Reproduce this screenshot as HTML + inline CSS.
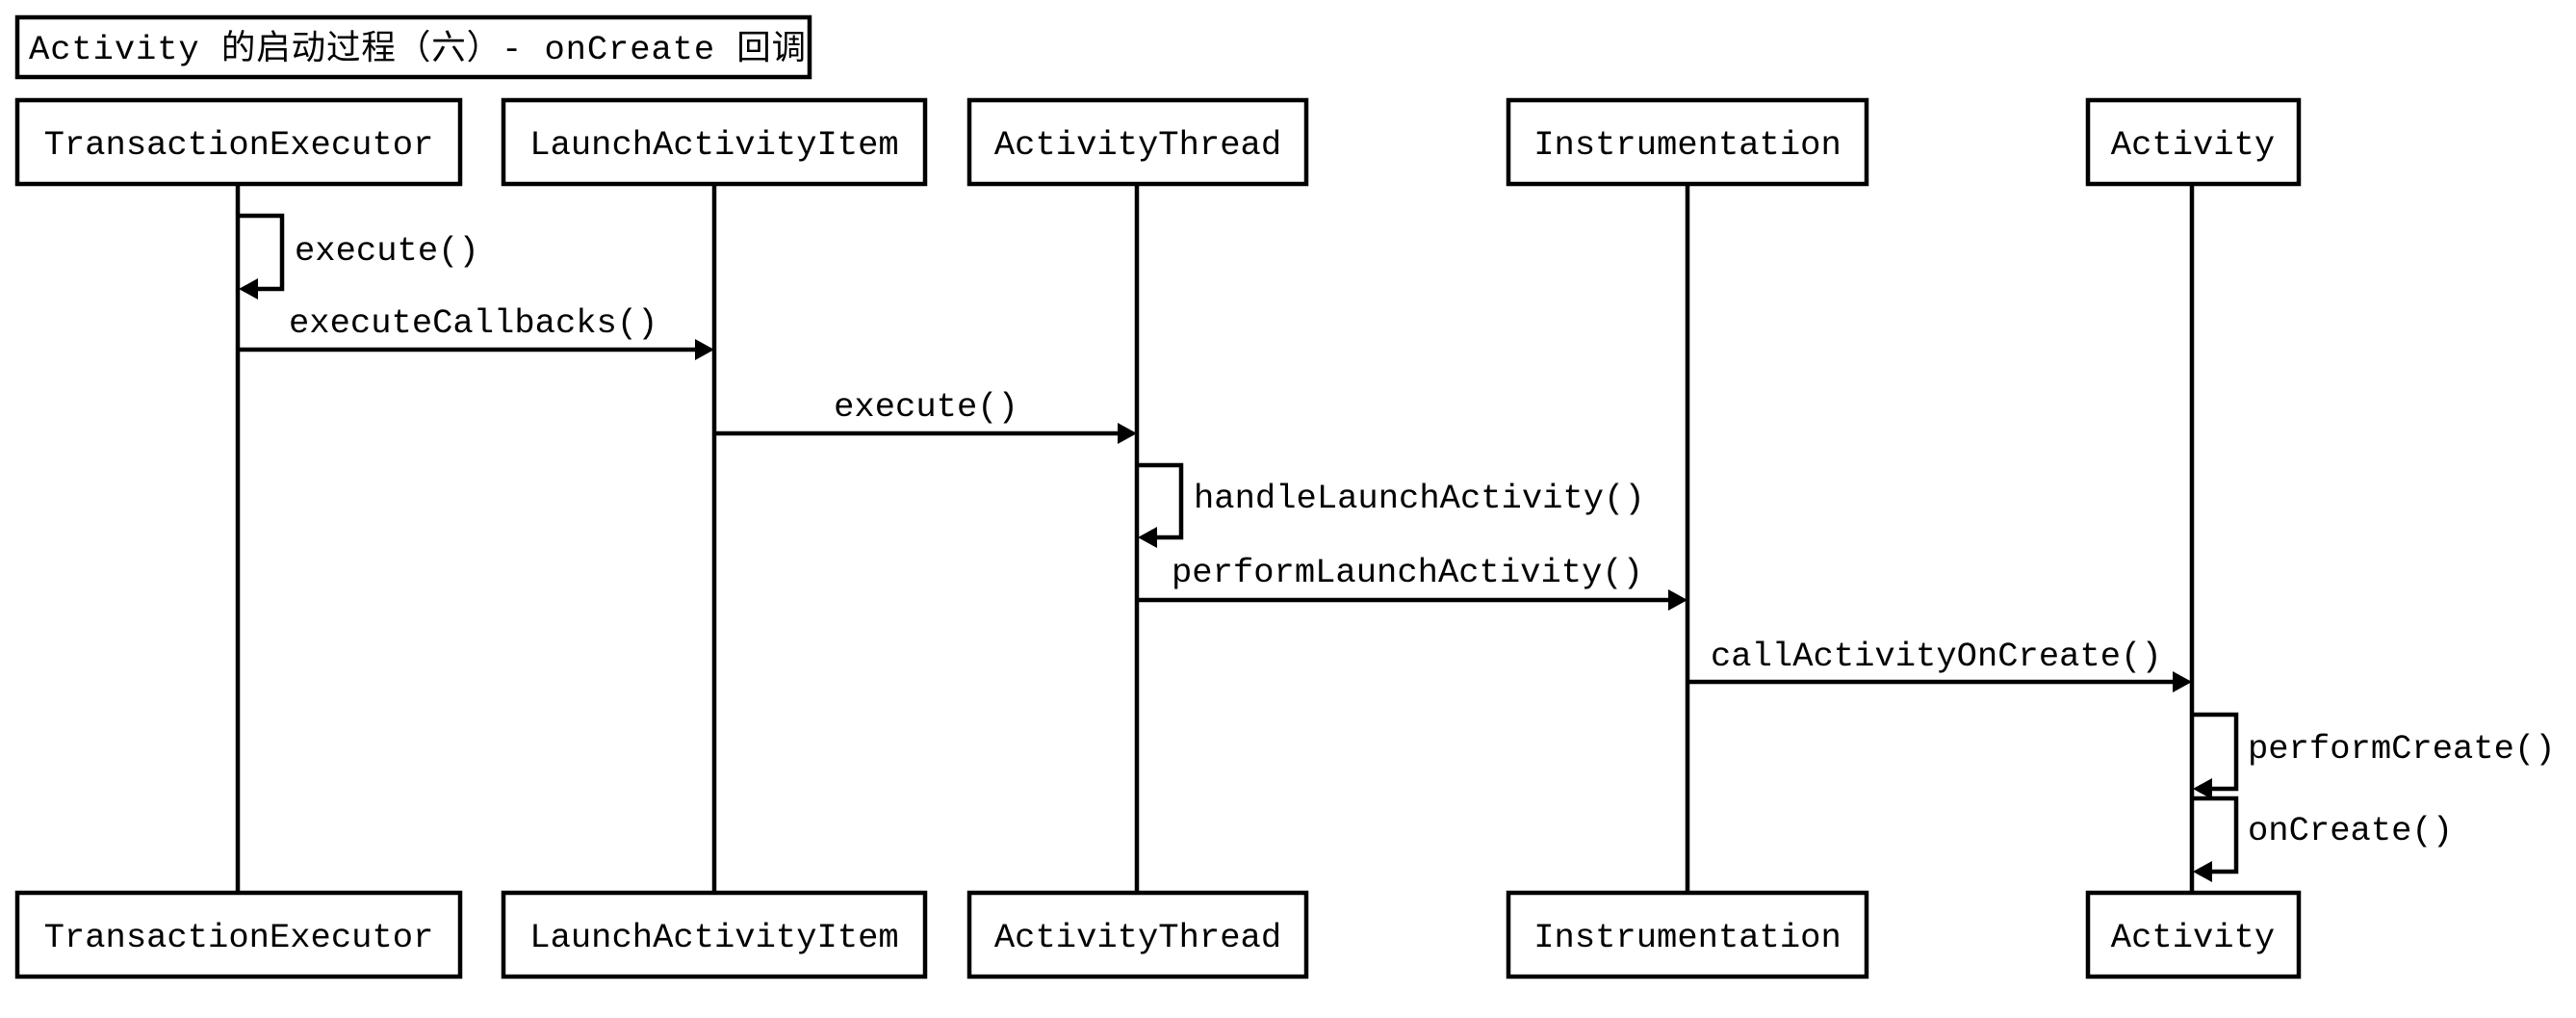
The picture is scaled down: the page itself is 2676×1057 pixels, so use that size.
<!DOCTYPE html>
<html><head><meta charset="utf-8"><style>
html,body{margin:0;padding:0;background:#fff;}
svg text{font-family:"Liberation Mono","Noto Sans CJK SC",monospace;font-size:35.5px;fill:#000;}
</style></head><body>
<svg width="2676" height="1052" viewBox="0 0 2676 1052" xmlns="http://www.w3.org/2000/svg">
<g fill="none" stroke="#000" stroke-width="4.5">
<rect x="18" y="18" width="823" height="62" fill="#fff"/>
<line x1="247" y1="191" x2="247" y2="927"/>
<line x1="742" y1="191" x2="742" y2="927"/>
<line x1="1181" y1="191" x2="1181" y2="927"/>
<line x1="1753" y1="191" x2="1753" y2="927"/>
<line x1="2277" y1="191" x2="2277" y2="927"/>
<rect x="18" y="104" width="460" height="87" fill="#fff"/>
<rect x="523" y="104" width="438" height="87" fill="#fff"/>
<rect x="1007" y="104" width="350" height="87" fill="#fff"/>
<rect x="1567" y="104" width="372" height="87" fill="#fff"/>
<rect x="2169" y="104" width="219" height="87" fill="#fff"/>
<rect x="18" y="927" width="460" height="87" fill="#fff"/>
<rect x="523" y="927" width="438" height="87" fill="#fff"/>
<rect x="1007" y="927" width="350" height="87" fill="#fff"/>
<rect x="1567" y="927" width="372" height="87" fill="#fff"/>
<rect x="2169" y="927" width="219" height="87" fill="#fff"/>
<polyline points="247,224 293,224 293,300 262,300"/>
<line x1="247" y1="363" x2="725" y2="363"/>
<line x1="742" y1="450" x2="1164" y2="450"/>
<polyline points="1181,483 1227,483 1227,558 1196,558"/>
<line x1="1181" y1="623" x2="1736" y2="623"/>
<line x1="1753" y1="708" x2="2260" y2="708"/>
<polyline points="2277,742 2323,742 2323,819 2292,819"/>
<polyline points="2277,829 2323,829 2323,905 2292,905"/>
</g>
<g fill="#000">
<polygon points="248,300 268,289 268,311"/>
<polygon points="742,363 722,352 722,374"/>
<polygon points="1181,450 1161,439 1161,461"/>
<polygon points="1182,558 1202,547 1202,569"/>
<polygon points="1753,623 1733,612 1733,634"/>
<polygon points="2277,708 2257,697 2257,719"/>
<polygon points="2278,819 2298,808 2298,830"/>
<polygon points="2278,905 2298,894 2298,916"/>
</g>
<text x="30" y="61" style="letter-spacing:0.9px">Activity 的启动过程（六）- onCreate 回调</text>
<g text-anchor="middle">
<text x="248" y="160">TransactionExecutor</text>
<text x="742" y="160">LaunchActivityItem</text>
<text x="1182" y="160">ActivityThread</text>
<text x="1753" y="160">Instrumentation</text>
<text x="2278" y="160">Activity</text>
<text x="248" y="983">TransactionExecutor</text>
<text x="742" y="983">LaunchActivityItem</text>
<text x="1182" y="983">ActivityThread</text>
<text x="1753" y="983">Instrumentation</text>
<text x="2278" y="983">Activity</text>
<text x="962" y="432">execute()</text>
</g>
<text x="306" y="270">execute()</text>
<text x="300" y="345">executeCallbacks()</text>
<text x="1240" y="527">handleLaunchActivity()</text>
<text x="1217" y="604">performLaunchActivity()</text>
<text x="1777" y="691">callActivityOnCreate()</text>
<text x="2335" y="787">performCreate()</text>
<text x="2335" y="872">onCreate()</text>
</svg>
</body></html>
